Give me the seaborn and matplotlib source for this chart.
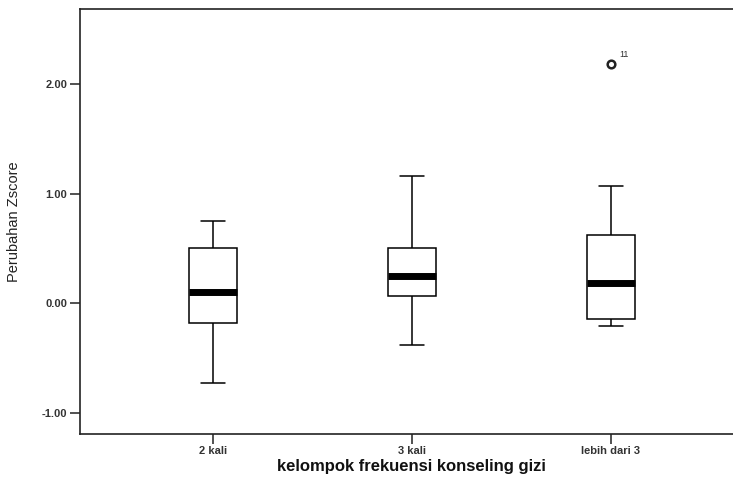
import numpy as np
import pandas as pd
import seaborn as sns
import matplotlib.pyplot as plt

# values (5-number summaries + outlier)
groups = ['2 kali', '3 kali', 'lebih dari 3']
z_2kali = [-0.73, -0.185, 0.10, 0.50, 0.75]
z_3kali = [-0.38, 0.067, 0.245, 0.50, 1.163]
z_lebih3 = [-0.21, -0.17, -0.146, 0.05, 0.18, 0.40, 0.62, 1.068, 2.18]
outlier_label = '11'
yticks = [-1.0, 0.0, 1.0, 2.0]

df = pd.DataFrame({
    'kelompok': [groups[0]] * len(z_2kali) + [groups[1]] * len(z_3kali) + [groups[2]] * len(z_lebih3),
    'zscore': z_2kali + z_3kali + z_lebih3,
})

sns.set_style('ticks')
plt.rcParams['font.family'] = ['Liberation Sans', 'DejaVu Sans']
plt.rcParams['axes.unicode_minus'] = False

W, H = 733, 484
fig = plt.figure(figsize=(W / 100, H / 100), dpi=100)
ax = fig.add_axes([80 / W, 1 - 434 / H, 665 / W, (434 - 8.7) / H])

sns.boxplot(data=df, x='kelompok', y='zscore', order=groups, ax=ax,
            color='white', linecolor='black', linewidth=1.1, width=0.24, whis=2,
            medianprops=dict(color='black', linewidth=5),
            flierprops=dict(marker='o', markersize=5.5, markerfacecolor='none',
                            markeredgecolor='#222222', markeredgewidth=1.8))

# case number next to the outlier
ax.annotate(outlier_label, xy=(2, max(z_lebih3)), xytext=(6, 5),
            textcoords='offset points', fontsize=6.5, color='#333333')

ax.set_xlim(-0.668, 2.674)
ax.set_ylim(-1.196, 2.688)
ax.set_yticks(yticks)
ax.set_yticklabels(['%.2f' % v for v in yticks])

for s in ax.spines.values():
    s.set_visible(True)
    s.set_linewidth(1.2)
    s.set_color('#222222')

ax.tick_params(axis='both', direction='out', length=7, width=1.1, color='#222222',
               labelsize=8, labelcolor='#333333', pad=2)
for lab in ax.get_xticklabels() + ax.get_yticklabels():
    lab.set_fontweight('bold')

ax.set_xlabel('kelompok frekuensi konseling gizi', fontsize=12, fontweight='bold', color='#111111')
ax.set_ylabel('Perubahan Zscore', fontsize=10.5, color='#222222')
ax.xaxis.set_label_coords(0.498, -0.058)
ax.yaxis.set_label_coords(-0.089, 0.5)

fig.savefig('out.png', dpi=100)
